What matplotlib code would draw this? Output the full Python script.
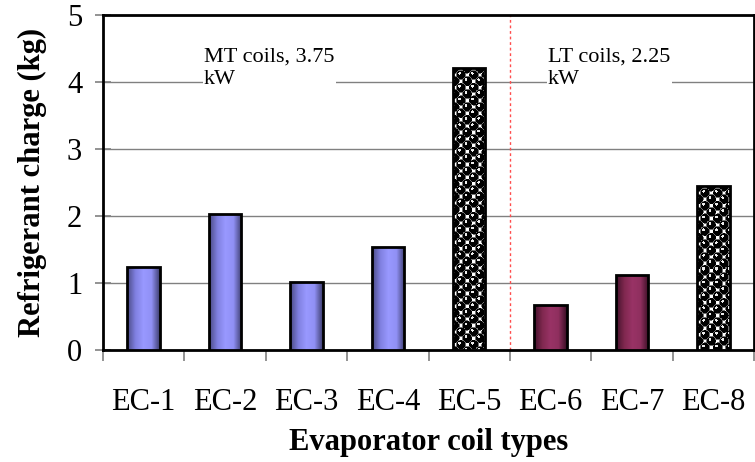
import matplotlib
matplotlib.use("Agg")
import matplotlib.pyplot as plt
import numpy as np
from matplotlib.colors import LinearSegmentedColormap

plt.rcParams['font.family'] = ['Liberation Serif', 'DejaVu Serif']

coils = ['EC-1', 'EC-2', 'EC-3', 'EC-4', 'EC-5', 'EC-6', 'EC-7', 'EC-8']
charge = [1.24, 2.03, 1.01, 1.54, 4.21, 0.67, 1.12, 2.45]
# fill per bar: 'mt' blue, 'lt' maroon, 'ball' patterned
style = ['mt', 'mt', 'mt', 'mt', 'ball', 'lt', 'lt', 'ball']

cmaps = {
    'mt': LinearSegmentedColormap.from_list('mt', ['#4a4a85', '#8080e0', '#9999ff', '#9090f5', '#3f3f70']),
    'lt': LinearSegmentedColormap.from_list('lt', ['#44122c', '#80284f', '#993366', '#8f2f5e', '#3a0f25']),
}


def ball_texture(w, h, cell=6.4, rad=4.4):
    # dark balls with a small highlight, laid out on a checkerboard
    yy, xx = np.mgrid[0:h, 0:w] + 0.5
    img = np.ones((h, w, 3))
    for r in range(int(h / cell) + 2):
        for c in range(int(w / cell) + 2):
            if (r + c) % 2:
                continue
            cy, cx = r * cell + 1.5, c * cell + 1.5
            d = np.hypot(xx - cx, yy - cy)
            img[d < rad + 0.7] = 0.45
            img[d < rad] = 0.0
            hl = np.hypot(xx - cx + 1.3, yy - cy + 1.5) < 1.4
            img[hl] = 0.92
    return img


fig = plt.figure(figsize=(7.55, 4.62), dpi=100)
ax = fig.add_axes([0.1364, 0.2424, 0.8623, 0.725])

x = np.arange(len(coils))
width = 0.4
ax.set_xlim(-0.5, len(coils) - 0.5)
ax.set_ylim(0, 5)

grad = np.linspace(0, 1, 64).reshape(1, -1)
for xi, v, s in zip(x, charge, style):
    bar = ax.bar(xi, v, width, color='none', edgecolor='black', linewidth=2.0, zorder=4)[0]
    if s == 'ball':
        p0 = ax.transData.transform((xi - width / 2, 0))
        p1 = ax.transData.transform((xi + width / 2, v))
        tex = ball_texture(int(round(p1[0] - p0[0])), int(round(p1[1] - p0[1])))
        im = ax.imshow(tex, aspect='auto', interpolation='nearest', zorder=3,
                       extent=[xi - width / 2, xi + width / 2, 0, v])
    else:
        im = ax.imshow(grad, cmap=cmaps[s], aspect='auto', zorder=3,
                       extent=[xi - width / 2, xi + width / 2, 0, v])
    im.set_clip_path(bar)

ax.set_xlim(-0.5, len(coils) - 0.5)
ax.set_ylim(0, 5)
ax.set_yticks([0, 1, 2, 3, 4, 5])
ax.yaxis.grid(True, color='#808080', linewidth=1.0, zorder=0)
ax.set_axisbelow(True)

ax.set_xticks(x)
ax.set_xticklabels(coils)
ax.set_xticks(np.arange(-0.5, len(coils)), minor=True)
ax.tick_params(axis='x', which='major', length=0, labelsize=22, pad=27)
ax.tick_params(axis='x', which='minor', length=8, width=1.2, color='#808080')
ax.tick_params(axis='y', which='major', length=12, width=1.2, color='#808080',
               labelsize=22, direction='inout', pad=9)

for sp in ax.spines.values():
    sp.set_linewidth(2.0)

ax.axvline(4.5, color='#ff4d4d', linestyle=(0, (2, 2)), linewidth=1.0, zorder=2)

box = dict(facecolor='white', edgecolor='none', pad=1)
ax.text(0.74, 4.52, 'MT coils, 3.75\nkW', fontsize=16, va='top', ha='left',
        linespacing=1.25, zorder=5, bbox=box)
ax.text(4.97, 4.52, 'LT coils, 2.25\nkW', fontsize=16, va='top', ha='left',
        linespacing=1.25, zorder=5, bbox=box)

ax.set_ylabel('Refrigerant charge (kg)', fontsize=22, fontweight='bold', labelpad=14)
ax.set_xlabel('Evaporator coil types', fontsize=22, fontweight='bold', labelpad=8)

fig.savefig('out.png', dpi=100)
